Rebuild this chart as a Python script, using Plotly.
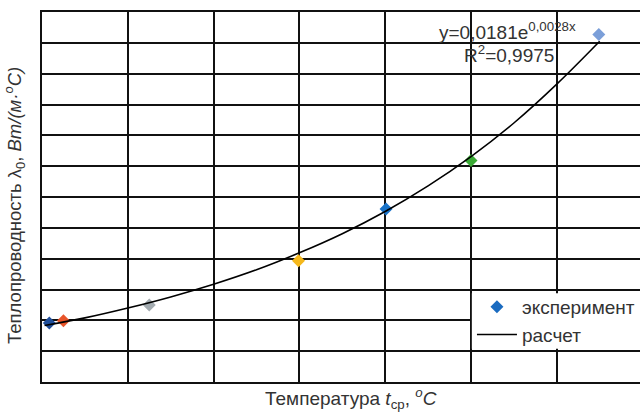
import plotly.graph_objects as go

# Experimental points (temperature, thermal conductivity)
exp_t = [8.5, 25, 125, 299, 401, 500, 649]
exp_lam = [0.0191, 0.0199, 0.0250, 0.0393, 0.0561, 0.0718, 0.1127]
exp_colors = ["#1f4e9a", "#e8552a", "#a3abb0", "#f5b81c", "#1a73c8", "#3aaa35", "#7b9fd9"]
legend_color = "#1a6bc0"

# Calculated curve
calc_t = [3, 50, 100, 150, 200, 250, 300, 350, 400, 450, 500, 550, 600, 650]
calc_lam = [0.0183, 0.0208, 0.0240, 0.0276, 0.0317, 0.0364, 0.0419, 0.0481,
            0.0553, 0.0636, 0.0731, 0.0840, 0.0966, 0.1105]

FONT = "Liberation Sans, Arial, sans-serif"
TXT = "#333"

fig = go.Figure()
fig.add_trace(go.Scatter(
    x=exp_t, y=exp_lam, mode="markers", name="эксперимент", showlegend=False,
    legendgroup="exp",
    marker=dict(symbol="diamond", size=10, color=exp_colors, line=dict(width=0)),
))
fig.add_trace(go.Scatter(
    x=[None], y=[None], mode="markers", name="эксперимент", legendgroup="exp",
    marker=dict(symbol="diamond", size=10, color=legend_color, line=dict(width=0)),
))
fig.add_trace(go.Scatter(
    x=calc_t, y=calc_lam, mode="lines", name="расчет",
    line=dict(color="black", width=1.6, shape="spline"),
))

fig.add_annotation(
    x=543, y=0.1138, xref="x", yref="y", yanchor="middle", xanchor="center",
    text="y=0,0181e<sup>0,0028x</sup>",
    showarrow=False, font=dict(family=FONT, size=19, color=TXT),
)
fig.add_annotation(
    x=544, y=0.1064, xref="x", yref="y", yanchor="middle", xanchor="center",
    text="R<sup>2</sup>=0,9975",
    showarrow=False, font=dict(family=FONT, size=19, color=TXT),
)

# white backing of the legend (covers grid only inside the legend box)
fig.add_shape(
    type="rect", xref="x", yref="y", x0=501, x1=700, y0=0.0108, y1=0.0288,
    fillcolor="white", line=dict(width=0), layer="above",
)

fig.update_layout(
    width=640, height=412,
    margin=dict(l=42, r=0, t=12, b=30),
    paper_bgcolor="white", plot_bgcolor="white",
    font=dict(family=FONT, size=18, color=TXT),
    showlegend=True,
    legend=dict(
        x=0.719, xanchor="left", y=0.254, yanchor="top",
        bgcolor="rgba(0,0,0,0)", borderwidth=0,
        font=dict(family=FONT, size=19, color=TXT),
        itemwidth=40, tracegroupgap=0,
    ),
    xaxis=dict(
        range=[0, 697], dtick=100, tick0=0,
        showticklabels=False, ticks="",
        showgrid=True, gridcolor="#111", gridwidth=1.6,
        zeroline=False, showline=True, linecolor="#111", linewidth=1.6, mirror=True,
    ),
    yaxis=dict(
        range=[0, 0.12], dtick=0.01, tick0=0,
        showticklabels=False, ticks="",
        showgrid=True, gridcolor="#111", gridwidth=1.6,
        zeroline=False, showline=True, linecolor="#111", linewidth=1.6,
    ),
)

# Axis titles
fig.add_annotation(
    xref="paper", yref="paper", x=0.517, y=-0.045, xanchor="center", yanchor="middle",
    showarrow=False,
    text="Температура <i>t</i><sub>ср</sub>, <sup><i>o</i></sup><i>C</i>",
    font=dict(family=FONT, size=19, color=TXT),
)
fig.add_annotation(
    xref="paper", yref="paper", x=-0.045, y=0.476, showarrow=False, textangle=-90,
    text="Теплопроводность λ<sub>0</sub>, <i>Вт/(м·<sup>o</sup>C)</i>",
    font=dict(family=FONT, size=18.5, color=TXT), xanchor="center", yanchor="middle",
)

fig.write_html("out.html")
